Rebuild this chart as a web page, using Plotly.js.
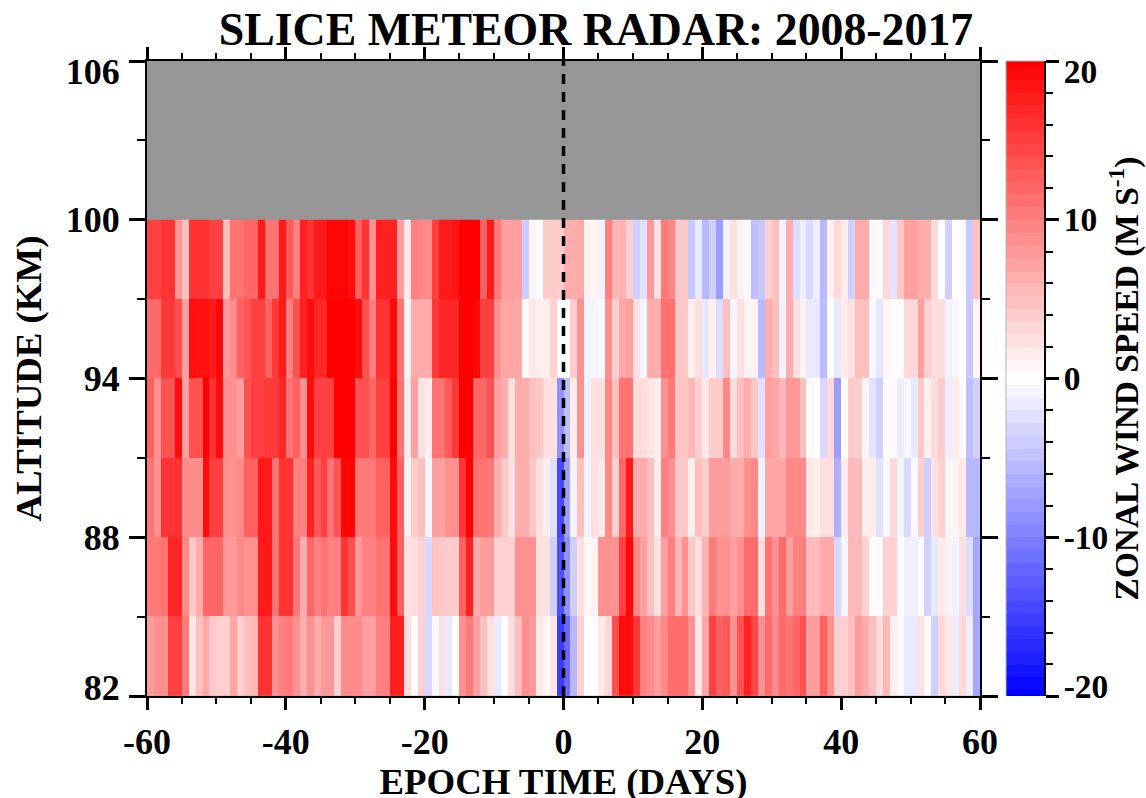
<!DOCTYPE html>
<html><head><meta charset="utf-8">
<script src="https://cdn.plot.ly/plotly-3.0.1.min.js"></script>
<style>html,body{margin:0;padding:0;background:#fff}#g{width:1146px;height:798px}</style>
</head><body><div id="g"></div>
<script>
// Zonal wind (m/s) per epoch day, one list per 3 km altitude bin
const alt97to100 = [
15,15,16,16,8,5,16,16,16,15,
15,5,11,11,12,12,18,11,11,18,
13,10,17.5,16,18,18,19.5,19.5,19.5,19,
12.5,16,8.5,17.5,17.5,17.5,7.5,1.8,10,9.5,
9,15,18,18,18.5,20,20,20,12.5,18,
10.5,7.5,7.5,7.5,-4,0.8,0,4,4,4,
6.5,6.5,6.8,1,1,-1,10,6,6,3.8,
-3.7,-2.4,8,2.4,10.5,9.5,4.3,4.3,-4.3,-1.8,
-5.5,-3.7,-7.7,-1.2,2.4,1,-0.5,-5,-4.3,3.7,
5,-1,6.5,-2.7,-1.3,-3,-1.3,-5.5,1,3,
1.6,-3.7,6.7,6.7,-0.5,0.5,3,-2.1,4.3,7.5,
7.5,6.5,6.5,2.9,0,-3.7,0.2,0.2,-4.3,5];
const alt94to97 = [
11.7,11.7,15.6,15.6,13.7,7.5,19,18.7,18.7,18,
19.2,8,9,12.5,13.3,15,15,12.5,15.6,18,
10,13.7,17.5,19,17,17,20,20,20,20,
19,13.7,10,16,16,19.4,11,1,6.5,6.5,
6.5,15.5,17,17,17,20,20,19.4,15,15,
8.7,7,7,7,0.4,1.8,1.3,1.3,3.7,-0.4,
0.2,4,8.7,-0.8,-0.8,-0.5,8.7,3.7,7,7.5,
2.4,-0.8,6.5,6.5,11.2,11.2,4.3,4.3,1.2,2.7,
-1.8,1.2,-2.7,5,-0.8,2.4,1,1,-5.3,6.5,
5,-1,6.5,2.4,1,-1.8,-1.8,-5.3,0,-1.8,
1.6,2.4,5,5,-0.5,-2,0.8,0.2,0.2,3,
3,7.5,3.7,2.7,2.7,-1,-0.7,0,-4.3,0.8];
const alt91to94 = [
12.5,8.7,13.5,13.5,19,7.5,13.7,13.7,20,16,
19,8.7,8.7,7.5,13.7,15,15,15.5,15.5,17,
11,12.5,8.7,19,15,15,15,20,20,20,
13.7,13.7,12,15,15,20,11,1.8,7.5,2.5,
1.5,11,11,13,15.6,20,20,12,12,13.7,
7.5,6.5,2.7,6.5,6.5,5,4.3,2.4,2.4,-8.7,
-5,1.6,8.7,-1,2.4,2.4,9.4,5,11,11,
2.7,2.7,2,1.5,8.7,10.5,4.6,4.6,5.6,3.7,
1.8,4,4,9.3,2.7,5,6.5,4.3,-2.4,7.5,
7,5.6,8,8,5,0.4,0,-3,3,-7.7,
0,4,4,0.8,-2.2,-3.7,0.4,0.4,-1.3,-0.8,
-1.8,4.3,1.2,2.7,4,-1.3,1.6,0.4,-5,-3.7];
const alt88to91 = [
11,8.7,16,16,16,9,9,9,19,15,
15,8.7,8.7,9.3,12.5,12.5,18,18,11,16,
16,10,10,17.5,13,15,11,13.5,19.5,19.5,
10.5,10.5,10.5,12.5,12.5,19,12.5,1,4,5,
-0.8,7.5,7.5,8.7,8.7,16,20,11,11,10.5,
6.5,4.3,2.4,6.5,6.5,4.3,2.4,1.5,-2.4,-14.4,
-7.5,-1,5,-1,2.4,1.8,9.3,3.7,12,18,
6.5,6.5,5,1.6,10,8.7,4.3,4.3,1.2,5,
4,7.7,7.7,7.7,6.5,6.5,8.7,9.4,-1,7,
7,7,9.3,9.3,9.3,1.8,1.2,2.4,2.7,-6.3,
1.5,5.3,5.3,1.5,1.5,-2.2,-0.4,3,-0.8,-3,
-0.4,3.7,-3.7,2.4,3.7,0.8,0.8,1.8,-5.6,-5.6];
const alt85to88 = [
10.5,10.5,11,17,17,9.3,4.3,6.5,12,12,
12,8,8,9.3,8.7,8.7,18,18,11,16,
16,10.5,6.5,12,10,11,10,10,16,13.7,
8,10,10,11,11,19,12.5,2.4,2.7,3.5,
-3,4.8,4.3,4,4,12.5,17.5,6.5,7.7,7.7,
3.7,3.7,3.7,8.7,8.7,8.7,2.4,2.4,-3.7,-13.7,
-8.7,-3.7,2.7,0.8,1,8.7,8.7,8.7,15,19.5,
9.3,7.5,5,2.4,7.5,10,5.6,8.7,4.3,2.7,
6,10.5,8.7,8.7,7.5,8.7,11.7,11.7,2.7,11,
8.7,11.7,7.5,10,10,5.3,5.3,6.7,6.7,-3,
-0.8,5.6,5.6,3.7,0.4,0.4,3.7,3.7,0.2,-1.2,
-1.2,-0.3,-3.7,-1.8,1.8,1,-1,2.4,-2.7,-7];
const alt82to85 = [
7.7,8.7,8.7,15,15,10.5,2,5,6.8,4.3,
3.7,3.7,7,3.7,5,5.6,16,16,8.7,10,
10.5,8.7,6.5,8.7,6.5,8,8,3.7,9,9,
9,7.5,7.5,10,10,17.5,17.5,2.7,0,3.7,
-3,-0.5,2.4,-1.8,0,8.7,10.5,7.5,5,2.4,
-1.8,0,2.7,5,8.7,8,1.8,0.8,1.8,-15.4,
-11.8,-5.6,3.7,0,0,1.8,3,13.7,19,19,
15.5,10,9,7.7,9.3,11.5,11.5,11.5,8.7,1.8,
7,15,12.5,13,8.7,13.5,17.5,14.5,8.7,11.7,
9.3,11.7,11,12,13.7,7.7,7.7,12.5,8.7,3.7,
3.7,5,7.7,6.5,5,2.7,5.6,1.5,0.4,-1.8,
-1.8,2.4,-0.3,-3.7,3,1.8,-1.3,3,-1.3,-7];

const xTickVals = [-60,-40,-20,0,20,40,60];
const xTickText = ['-60','-40','-20','0','20','40','60'];
const yTickVals = [82,88,94,100,106];
const yTickText = ['82','88','94','100','106'];
const cbTickVals = [-20,-10,0,10,20];
const cbTickText = ['-20','-10','0','10','20'];
const blueWhiteRed = [[0,'#0000ff'],[0.5,'#ffffff'],[1,'#ff0000']];

// stepped levels of the colour key
const keyLevels = [];
for (let i = -25; i <= 25; i++) keyLevels.push(i * 0.8);

const W = 1146, H = 798;
const fontFam = '"Liberation Serif", serif';
const tickF = {family: fontFam, size: 36, color: '#000', weight: 700};
const titleF = {family: fontFam, size: 36.8, color: '#000', weight: 700};
const px = (a, b) => [a / W, b / W];
const py = (top, bot) => [1 - bot / H, 1 - top / H];

const traces = [
 {type: 'heatmap', x0: -59.5, dx: 1, y0: 83.5, dy: 3,
  z: [alt82to85, alt85to88, alt88to91, alt91to94, alt94to97, alt97to100],
  zmin: -20, zmax: 20, colorscale: blueWhiteRed, showscale: false, hoverinfo: 'z', xgap: 0, ygap: 0},
 {type: 'heatmap', xaxis: 'x2', yaxis: 'y2', x: [0], y: keyLevels,
  z: keyLevels.map(v => [v]),
  zmin: -20, zmax: 20, colorscale: blueWhiteRed, showscale: false, hoverinfo: 'skip'}
];

const layout = {
 width: W, height: H, margin: {l: 0, r: 0, t: 0, b: 0},
 paper_bgcolor: '#fff', plot_bgcolor: '#969696', showlegend: false,
 title: {text: 'SLICE METEOR RADAR: 2008-2017', x: 596 / W, xanchor: 'center', y: 1 - 29 / H, yanchor: 'middle',
         font: {family: fontFam, size: 45.8, color: '#000', weight: 700}},
 xaxis: {domain: px(147, 980), range: [-60, 60], anchor: 'y', side: 'bottom', tickmode: 'array',
  tickvals: xTickVals, ticktext: xTickText, ticks: 'outside', ticklen: 12, tickwidth: 3, tickcolor: '#000',
  minor: {dtick: 5, tick0: -60, ticks: 'outside', ticklen: 6, tickwidth: 2, tickcolor: '#000', showgrid: false},
  showline: true, linecolor: '#000', linewidth: 2, mirror: 'ticks', showgrid: false, zeroline: false,
  tickfont: tickF, ticklabelstandoff: 1, title: {text: 'EPOCH TIME (DAYS)', font: titleF, standoff: 9}},
 yaxis: {domain: py(61, 696), range: [82, 106], anchor: 'x', side: 'left', tickmode: 'array',
  tickvals: yTickVals, ticktext: yTickText, ticks: 'outside', ticklen: 16, tickwidth: 3, tickcolor: '#000',
  minor: {dtick: 3, tick0: 82, ticks: 'outside', ticklen: 8, tickwidth: 2, tickcolor: '#000', showgrid: false},
  showline: true, linecolor: '#000', linewidth: 2, mirror: 'ticks', showgrid: false, zeroline: false,
  tickfont: tickF, ticklabelstandoff: 2, title: {text: 'ALTITUDE (KM)', font: titleF, standoff: 13}},
 xaxis2: {domain: px(1006, 1044), anchor: 'y2', showticklabels: false, ticks: '', showgrid: false, zeroline: false, fixedrange: true},
 yaxis2: {domain: py(61, 696), range: [-20, 20], anchor: 'x2', side: 'right', tickmode: 'array',
  tickvals: cbTickVals, ticktext: cbTickText, ticks: 'outside', ticklen: 13, tickwidth: 3, tickcolor: '#000',
  minor: {dtick: 2, tick0: -20, ticks: 'outside', ticklen: 7, tickwidth: 2, tickcolor: '#000', showgrid: false},
  showline: true, linecolor: '#000', linewidth: 2, showgrid: false, zeroline: false,
  tickfont: {family: fontFam, size: 33.5, color: '#000', weight: 700}, ticklabelstandoff: -2,
  title: {text: 'ZONAL WIND SPEED (M S<sup>-1</sup>)', font: {family: fontFam, size: 33.4, color: '#000', weight: 700}, standoff: 12}},
 shapes: [
  {type: 'line', xref: 'x', yref: 'y', x0: 0, x1: 0, y0: 82, y1: 106,
   line: {color: '#000', width: 3.5, dash: '10px,8px'}},
  {type: 'line', xref: 'x2 domain', yref: 'y2 domain', x0: 0, x1: 0, y0: 0, y1: 1, line: {color: '#b4b4b4', width: 1}},
  {type: 'line', xref: 'x2 domain', yref: 'y2 domain', x0: 0, x1: 1, y0: 1, y1: 1, line: {color: '#b4b4b4', width: 1}}
 ]
};
Plotly.newPlot('g', traces, layout, {displayModeBar: false, staticPlot: true}).then(gd => {
 // the end labels of the vertical axes sit inside the axis span, as in the reference
 const nudge = {'106': 10, '20': 10, '82': -9, '-20': -10};
 gd.querySelectorAll('.ytick text, .y2tick text').forEach(t => {
  const d = nudge[t.textContent];
  if (d !== undefined) t.setAttribute('dy', d);
 });
 const xt = gd.querySelector('.xtitle');
 if (xt) xt.setAttribute('dy', 4);
});
</script></body></html>
